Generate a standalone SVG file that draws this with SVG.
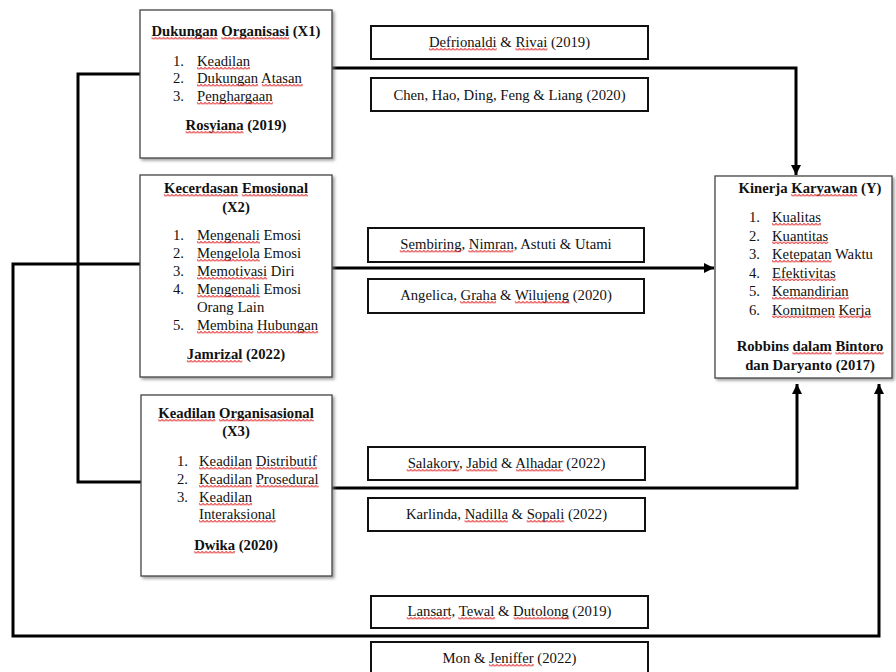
<svg xmlns="http://www.w3.org/2000/svg" width="896" height="672" viewBox="0 0 896 672">
<style>
text{font-family:"Liberation Serif","Times New Roman",serif;font-size:14.7px;fill:#111}
.b{font-weight:bold}
.m{text-anchor:middle}
.node{fill:#fff;stroke:#444;stroke-width:1.3}
.ref{fill:#fff;stroke:#111;stroke-width:2}
.ln{fill:none;stroke:#000;stroke-width:3}
.w{fill:url(#wv);height:2.6px}
</style>
<defs>
<filter id="sh" x="-10%" y="-10%" width="130%" height="130%">
<feDropShadow dx="2" dy="2" stdDeviation="1.5" flood-color="#777" flood-opacity="0.7"/>
</filter>
<pattern id="wv" patternUnits="userSpaceOnUse" width="4" height="2.6">
<path d="M0,0.4 L2,2.2 L4,0.4" fill="none" stroke="#e02020" stroke-width="0.9"/>
</pattern>
<marker id="ar" viewBox="0 0 10 10" refX="10" refY="5" markerWidth="10" markerHeight="10" markerUnits="userSpaceOnUse" orient="auto">
<path d="M0,0 L10,5 L0,10 Z" fill="#000"/>
</marker>
</defs>

<g id="connectors">
<polyline class="ln" points="332,68 796,68 796,175" marker-end="url(#ar)"/>
<line class="ln" x1="332" y1="268" x2="714" y2="268" marker-end="url(#ar)"/>
<polyline class="ln" points="332,488 797,488 797,384" marker-end="url(#ar)"/>
<polyline class="ln" points="140,74 78,74 78,482 141,482"/>
<polyline class="ln" points="140,264 13,264 13,636 879,636 879,384" marker-end="url(#ar)"/>
</g>

<g id="x1">
<rect class="node" x="140" y="10" width="192" height="148" filter="url(#sh)"/>
<text class="b m" x="236" y="36">Dukungan Organisasi (X1)</text>
<text x="173" y="66">1.</text><text x="197" y="66">Keadilan</text>
<text x="173" y="83">2.</text><text x="197" y="83">Dukungan Atasan</text>
<text x="173" y="101">3.</text><text x="197" y="101">Penghargaan</text>
<text class="b m" x="236" y="130">Rosyiana (2019)</text>
<rect class="w" transform="translate(151.5,37)" width="66.2"/>
<rect class="w" transform="translate(221.4,37)" width="67.8"/>
<rect class="w" transform="translate(197,67)" width="53.1"/>
<rect class="w" transform="translate(197,84)" width="61.2"/>
<rect class="w" transform="translate(261.9,84)" width="40.8"/>
<rect class="w" transform="translate(197,102)" width="75.9"/>
<rect class="w" transform="translate(185.6,131)" width="58"/>
</g>

<g id="x2">
<rect class="node" x="140" y="175" width="192" height="202" filter="url(#sh)"/>
<text class="b m" x="236" y="193">Kecerdasan Emosional</text>
<text class="b m" x="236" y="212">(X2)</text>
<text x="173" y="240">1.</text><text x="197" y="240">Mengenali Emosi</text>
<text x="173" y="258">2.</text><text x="197" y="258">Mengelola Emosi</text>
<text x="173" y="276">3.</text><text x="197" y="276">Memotivasi Diri</text>
<text x="173" y="294">4.</text><text x="197" y="294">Mengenali Emosi</text>
<text x="197" y="312">Orang Lain</text>
<text x="173" y="330">5.</text><text x="197" y="330">Membina Hubungan</text>
<text class="b m" x="236" y="359">Jamrizal (2022)</text>
<rect class="w" transform="translate(163.9,194)" width="74.3"/>
<rect class="w" transform="translate(241.9,194)" width="66.2"/>
<rect class="w" transform="translate(197,241)" width="62.9"/>
<rect class="w" transform="translate(197,259)" width="62.9"/>
<rect class="w" transform="translate(197,277)" width="70.2"/>
<rect class="w" transform="translate(197,295)" width="62.9"/>
<rect class="w" transform="translate(197,331)" width="56.3"/>
<rect class="w" transform="translate(257,331)" width="61.2"/>
<rect class="w" transform="translate(186.8,360)" width="55.5"/>
</g>

<g id="x3">
<rect class="node" x="141" y="395" width="191" height="181" filter="url(#sh)"/>
<text class="b m" x="236" y="418">Keadilan Organisasional</text>
<text class="b m" x="236" y="436">(X3)</text>
<text x="177" y="466">1.</text><text x="199" y="466">Keadilan Distributif</text>
<text x="177" y="484">2.</text><text x="199" y="484">Keadilan Prosedural</text>
<text x="177" y="502">3.</text><text x="199" y="502">Keadilan</text>
<text x="199" y="519">Interaksional</text>
<text class="b m" x="236" y="550">Dwika (2020)</text>
<rect class="w" transform="translate(158.2,419)" width="57.2"/>
<rect class="w" transform="translate(219.1,419)" width="94.8"/>
<rect class="w" transform="translate(199,467)" width="53.1"/>
<rect class="w" transform="translate(255.8,467)" width="61.3"/>
<rect class="w" transform="translate(199,485)" width="53.1"/>
<rect class="w" transform="translate(255.8,485)" width="62.9"/>
<rect class="w" transform="translate(199,503)" width="53.1"/>
<rect class="w" transform="translate(199,520)" width="76.7"/>
<rect class="w" transform="translate(194.2,551)" width="40.8"/>
</g>

<g id="y">
<rect class="node" x="715" y="176" width="177" height="202" filter="url(#sh)"/>
<text class="b m" x="810" y="193">Kinerja Karyawan (Y)</text>
<text x="749" y="222">1.</text><text x="772" y="222">Kualitas</text>
<text x="749" y="240.5">2.</text><text x="772" y="240.5">Kuantitas</text>
<text x="749" y="259">3.</text><text x="772" y="259">Ketepatan Waktu</text>
<text x="749" y="277.5">4.</text><text x="772" y="277.5">Efektivitas</text>
<text x="749" y="296">5.</text><text x="772" y="296">Kemandirian</text>
<text x="749" y="314.5">6.</text><text x="772" y="314.5">Komitmen Kerja</text>
<text class="b m" x="810" y="351">Robbins dalam Bintoro</text>
<text class="b m" x="810" y="370">dan Daryanto (2017)</text>
<rect class="w" transform="translate(791.2,194)" width="66.2"/>
<rect class="w" transform="translate(772,223)" width="49"/>
<rect class="w" transform="translate(772,241.5)" width="56.3"/>
<rect class="w" transform="translate(772,260)" width="59.6"/>
<rect class="w" transform="translate(772,278.5)" width="63.7"/>
<rect class="w" transform="translate(772,297)" width="76.7"/>
<rect class="w" transform="translate(772,315.5)" width="62.9"/>
<rect class="w" transform="translate(838.6,315.5)" width="32.6"/>
<rect class="w" transform="translate(792.5,352)" width="39.2"/>
<rect class="w" transform="translate(835.4,352)" width="48.2"/>
</g>

<g id="r1"><rect class="ref" x="371" y="26" width="277" height="33"/>
<text class="m" x="509.5" y="47">Defrionaldi &amp; Rivai (2019)</text>
<rect class="w" transform="translate(428.9,48)" width="67.8"/>
<rect class="w" transform="translate(515.5,48)" width="31.9"/></g>
<g id="r2"><rect class="ref" x="371" y="78" width="277" height="33"/>
<text class="m" x="509.5" y="100">Chen, Hao, Ding, Feng &amp; Liang (2020)</text></g>
<g id="r3"><rect class="ref" x="368" y="228" width="276" height="34"/>
<text class="m" x="506" y="249">Sembiring, Nimran, Astuti &amp; Utami</text>
<rect class="w" transform="translate(399.8,250)" width="61.3"/>
<rect class="w" transform="translate(468.4,250)" width="44.9"/></g>
<g id="r4"><rect class="ref" x="368" y="279" width="276" height="34"/>
<text class="m" x="506" y="300">Angelica, Graha &amp; Wilujeng (2020)</text>
<rect class="w" transform="translate(460.1,301)" width="35.9"/>
<rect class="w" transform="translate(514.8,301)" width="54.7"/></g>
<g id="r5"><rect class="ref" x="368" y="447" width="277" height="33"/>
<text class="m" x="506.5" y="468">Salakory, Jabid &amp; Alhadar (2022)</text>
<rect class="w" transform="translate(406.7,469)" width="52.3"/>
<rect class="w" transform="translate(466.3,469)" width="31"/>
<rect class="w" transform="translate(516.1,469)" width="47.3"/></g>
<g id="r6"><rect class="ref" x="368" y="498" width="277" height="33"/>
<text class="m" x="506.5" y="519">Karlinda, Nadilla &amp; Sopali (2022)</text>
<rect class="w" transform="translate(464.6,520)" width="43.3"/>
<rect class="w" transform="translate(526.7,520)" width="37.6"/></g>
<g id="r7"><rect class="ref" x="371" y="596" width="277" height="32"/>
<text class="m" x="509.5" y="616">Lansart, Tewal &amp; Dutolong (2019)</text>
<rect class="w" transform="translate(406.8,617)" width="44.1"/>
<rect class="w" transform="translate(458.2,617)" width="36.7"/>
<rect class="w" transform="translate(513.8,617)" width="55.5"/></g>
<g id="r8"><rect class="ref" x="371" y="642" width="277" height="34"/>
<text class="m" x="509.5" y="663">Mon &amp; Jeniffer (2022)</text>
<rect class="w" transform="translate(488.9,664)" width="44.9"/></g>
</svg>
